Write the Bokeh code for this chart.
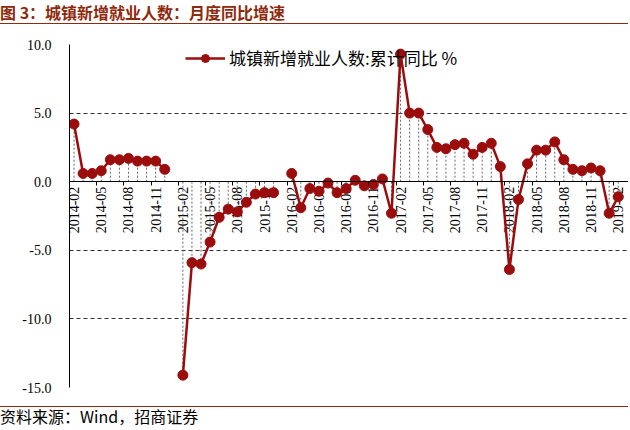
import math

from bokeh.plotting import figure
from bokeh.embed import file_html
from bokeh.resources import INLINE
from bokeh.models import (ColumnDataSource, Range1d, FixedTicker, PrintfTickFormatter,
                          Legend, LegendItem, Div)
from bokeh.layouts import column
from bokeh.core.properties import value

nan = float("nan")

# monthly categories, 2014-02 .. 2019-02
months = [f"{y}-{m:02d}" for y in range(2014, 2020) for m in range(1, 13)][1:62]

# 城镇新增就业人数: 累计同比 (%), January prints missing in 2015 and 2016
yoy = [4.2, 0.6, 0.6, 0.8, 1.6, 1.6, 1.7, 1.5, 1.5, 1.5, 0.9,
       nan, -14.1, -5.9, -6.0, -4.4, -2.6, -2.0, -2.2, -1.5, -0.9, -0.8, -0.8,
       nan, 0.6, -1.9, -0.5, -0.7, -0.1, -0.8, -0.5, 0.1, -0.3, -0.2, 0.2,
       -2.3, 9.3, 5.0, 5.0, 3.8, 2.5, 2.4, 2.7, 2.8, 2.0, 2.5, 2.8,
       1.1, -6.4, -1.3, 1.3, 2.3, 2.3, 2.9, 1.6, 0.9, 0.8, 1.0, 0.8,
       -2.3, -1.1]

y_ticks = [-15, -10, -5, 0, 5, 10]
label_step = 3

title_txt = "图 3：城镇新增就业人数：月度同比增速"
series_name = "城镇新增就业人数:累计同比 %"
source_txt = "资料来源：Wind，招商证券"

RED = "#9b0d0d"
BROWN = "#8e2a0e"
SERIF = "Times New Roman, Liberation Serif, serif"

x = list(range(len(months)))
src = ColumnDataSource(data=dict(x=x, yoy=yoy))

has_val = [i for i in x if not math.isnan(yoy[i])]
drops = ColumnDataSource(data=dict(x=has_val, y0=[0] * len(has_val),
                                   y1=[yoy[i] for i in has_val]))

lab_x = x[::label_step]
labels = ColumnDataSource(data=dict(x=lab_x, y=[0] * len(lab_x),
                                    text=months[::label_step]))

# ~9.07 px per month; a little room on the right for the last label
p = figure(frame_width=559, frame_height=343,
           x_range=Range1d(-0.5, len(months) + 0.13), y_range=Range1d(-15, 10),
           toolbar_location=None, tools="", output_backend="svg",
           min_border_left=69, min_border_right=0,
           min_border_top=20, min_border_bottom=19)
p.outline_line_color = None

# grid
p.xgrid.visible = False
p.ygrid.ticker = FixedTicker(ticks=y_ticks)
p.ygrid.grid_line_color = "#333333"
p.ygrid.grid_line_dash = "4 3"
p.ygrid.grid_line_width = 1

# y axis
p.yaxis.ticker = FixedTicker(ticks=y_ticks)
p.yaxis.formatter = PrintfTickFormatter(format="%.1f")
p.yaxis.major_tick_out = 0
p.yaxis.major_tick_in = 0
p.yaxis.minor_tick_out = 0
p.yaxis.minor_tick_in = 0
p.yaxis.major_label_standoff = 18
p.yaxis.major_label_text_font = SERIF
p.yaxis.major_label_text_font_size = "14px"
p.yaxis.major_label_text_color = "black"
p.yaxis.axis_line_color = "black"

# x axis sits on zero, ticks between categories
p.xaxis.fixed_location = 0
p.xaxis.ticker = FixedTicker(ticks=[i - 0.5 for i in lab_x])
p.xaxis.major_tick_out = 4
p.xaxis.major_tick_in = 0
p.xaxis.minor_tick_out = 0
p.xaxis.minor_tick_in = 0
p.xaxis.major_label_text_font_size = "1px"
p.xaxis.major_label_text_color = None
p.xaxis.major_label_standoff = 0
p.xaxis.axis_line_color = "black"

# rotated month labels hanging under the zero line
p.text(x="x", y="y", text="text", source=labels, angle=math.pi / 2,
       text_align="right", text_baseline="middle", y_offset=5,
       text_font=value(SERIF), text_font_size="14px",
       text_color="black")

# dashed drop lines
p.segment(x0="x", y0="y0", x1="x", y1="y1", source=drops,
          line_color="#666666", line_dash="2 2", line_width=1)

r_line = p.line("x", "yoy", source=src, line_color=RED, line_width=2.5)
r_pts = p.scatter("x", "yoy", source=src, size=10, fill_color=RED, line_color=RED)

legend = Legend(items=[LegendItem(label=series_name, renderers=[r_line, r_pts])],
                location=(116, 317))
legend.label_text_font = "Noto Sans CJK SC"
legend.label_text_font_size = "17px"
legend.label_text_color = "black"
legend.glyph_width = 40
legend.glyph_height = 20
legend.label_standoff = 4
legend.padding = 0
legend.margin = 0
legend.border_line_color = None
legend.background_fill_alpha = 0
p.add_layout(legend)

head = Div(text=title_txt, width=628, height=24, margin=(0, 0, 0, 0),
           styles={"font-family": "Noto Sans CJK SC", "font-size": "16px",
                   "font-weight": "bold", "color": BROWN, "line-height": "24px",
                   "border-bottom": f"1.5px solid {BROWN}"})
foot = Div(text=source_txt, width=628, height=18, margin=(0, 0, 0, 0),
           styles={"font-family": "Noto Sans CJK SC", "font-size": "16px",
                   "color": "black", "line-height": "18px",
                   "border-top": f"1.5px solid {BROWN}"})

page = column(head, p, foot, spacing=0)

open("out.html", "w").write(file_html(page, INLINE))
